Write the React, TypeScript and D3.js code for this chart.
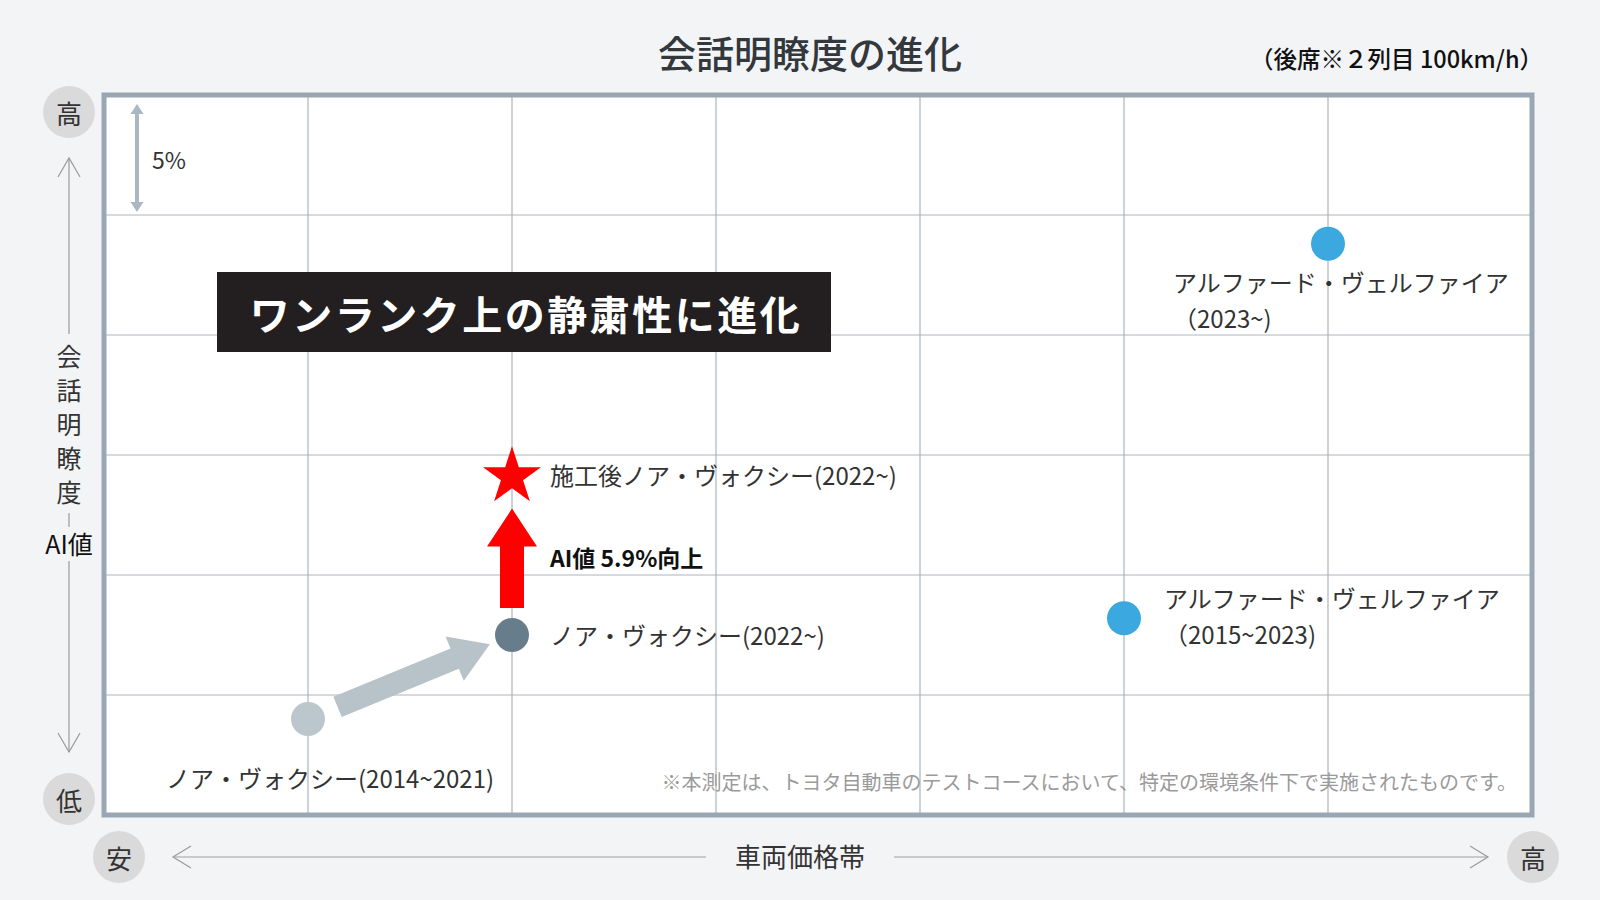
import { scaleLinear, symbol, symbolStar, line as d3_line, range } from "d3";

// 車両価格帯 (0 = 安 … 7 = 高) and AI値 (%)
const modelLines = [
  ["ノア・ヴォクシー(2014~2021)"],
  ["ノア・ヴォクシー(2022~)"],
  ["アルファード・ヴェルファイア", "（2015~2023)"],
  ["アルファード・ヴェルファイア", "（2023~)"],
];
const priceBands = [1, 2, 5, 6];
const aiValues = [4.0, 7.5, 8.2, 23.8];

// after treatment
const treatedLabel = "施工後ノア・ヴォクシー(2022~)";
const treatedBand = 2;
const treatedValue = 14.1;
const improvementLabel = "AI値 5.9%向上";

const title = "会話明瞭度の進化";
const subtitle = "（後席※２列目 100km/h）";
const bannerText = "ワンランク上の静粛性に進化";
const yAxisTitle = "会話明瞭度";
const yAxisUnit = "AI値";
const xAxisTitle = "車両価格帯";
const scaleNote = "5%";
const footnote = "※本測定は、トヨタ自動車のテストコースにおいて、特定の環境条件下で実施されたものです。";

const FONT = "'Noto Sans CJK JP', 'Noto Sans', sans-serif";

function arrowPath(x0: number, y0: number, x1: number, y1: number, sw: number, hw: number, hl: number) {
  const len = Math.hypot(x1 - x0, y1 - y0);
  const ux = (x1 - x0) / len;
  const uy = (y1 - y0) / len;
  const nx = -uy;
  const ny = ux;
  const bx = x1 - ux * hl;
  const by = y1 - uy * hl;
  const pts: [number, number][] = [
    [x0 + (nx * sw) / 2, y0 + (ny * sw) / 2],
    [bx + (nx * sw) / 2, by + (ny * sw) / 2],
    [bx + (nx * hw) / 2, by + (ny * hw) / 2],
    [x1, y1],
    [bx - (nx * hw) / 2, by - (ny * hw) / 2],
    [bx - (nx * sw) / 2, by - (ny * sw) / 2],
    [x0 - (nx * sw) / 2, y0 - (ny * sw) / 2],
  ];
  return d3_line()(pts) + "Z";
}

export default function App() {
  const x = scaleLinear().domain([0, 7]).range([104, 1532]);
  const y = scaleLinear().domain([0, 30]).range([815, 95]);

  const dotColors = ["#bcc6cd", "#687d8c", "#3ba9e0", "#3ba9e0"];
  const r = 17;

  // grey arrow between the two Noah generations
  const gx0 = x(priceBands[0]);
  const gy0 = y(aiValues[0]);
  const gx1 = x(priceBands[1]);
  const gy1 = y(aiValues[1]);
  const glen = Math.hypot(gx1 - gx0, gy1 - gy0);
  const gux = (gx1 - gx0) / glen;
  const guy = (gy1 - gy0) / glen;
  const greyArrow = arrowPath(
    gx0 + gux * 32,
    gy0 + guy * 32,
    gx0 + gux * (glen - 24),
    gy0 + guy * (glen - 24),
    22,
    48,
    38
  );

  // red arrow up to the treated star
  const sx = x(treatedBand);
  const sy = y(treatedValue);
  const redArrow = arrowPath(sx, gy1 - 27, sx, sy + 32, 24, 50, 38);
  const star = symbol(symbolStar, 1040)();

  const labelLayout = [
    { dx: -142, dy: [58] },
    { dx: 38, dy: [-1] },
    { dx: 40, dy: [-21, 15] },
    { dx: -155, dy: [38, 74] },
  ];

  const axisGrey = "#9a9a9a";

  return (
    <svg
      width={1600}
      height={900}
      style={{ position: "absolute", left: 0, top: 0, display: "block", background: "#f3f4f6" }}
      fontFamily={FONT}
    >
      {/* title */}
      <text x={810} y={68} textAnchor="middle" fontSize={38} fontWeight={500} fill="#33383d">
        {title}
      </text>
      <text x={1543} y={68} textAnchor="end" fontSize={23.5} fontWeight={500} fill="#111">
        {subtitle}
      </text>

      {/* plot area */}
      <rect x={x(0)} y={y(30)} width={x(7) - x(0)} height={y(0) - y(30)} fill="#fff" />
      {range(1, 7).map((t) => (
        <line key={"vx" + t} x1={x(t)} x2={x(t)} y1={y(30)} y2={y(0)} stroke="#a9b5be" strokeWidth={1.2} />
      ))}
      {y.ticks(6).filter((t) => t > 0 && t < 30).map((t) => (
        <line key={"hy" + t} x1={x(0)} x2={x(7)} y1={y(t)} y2={y(t)} stroke="#a9b5be" strokeWidth={1.2} />
      ))}
      <rect
        x={x(0)}
        y={y(30)}
        width={x(7) - x(0)}
        height={y(0) - y(30)}
        fill="none"
        stroke="#98a7b3"
        strokeWidth={5}
      />

      {/* 5% scale marker */}
      <g fill="#aab8c3">
        <path d={arrowPath(x(0) + 33, y(27.5), x(0) + 33, y(30) + 9, 4, 13, 10)} />
        <path d={arrowPath(x(0) + 33, y(27.5), x(0) + 33, y(25) - 3, 4, 13, 10)} />
      </g>
      <text x={x(0) + 48} y={y(27.5) + 4} dominantBaseline="central" fontSize={23} fill="#333">
        {scaleNote}
      </text>

      {/* banner */}
      <rect x={217} y={272} width={614} height={80} fill="#231f20" />
      <text
        x={526}
        y={313}
        textAnchor="middle"
        dominantBaseline="central"
        fontSize={40}
        fontWeight={700}
        letterSpacing={2.5}
        fill="#fff"
      >
        {bannerText}
      </text>

      {/* arrows */}
      <path d={greyArrow} fill="#b7c2c9" />
      <path d={redArrow} fill="#ff0000" />
      <text x={sx + 38} y={567} fontSize={23} fontWeight={700} fill="#111">
        {improvementLabel}
      </text>

      {/* points */}
      {priceBands.map((b, i) => (
        <circle key={"pt" + i} cx={x(b)} cy={y(aiValues[i])} r={r} fill={dotColors[i]} />
      ))}
      <path d={star ?? ""} transform={`translate(${sx},${sy})`} fill="#ff0000" />

      {/* labels */}
      {modelLines.map((lines, i) => (
        <g key={"lb" + i} fontSize={24} fill="#333">
          {lines.map((s, j) => (
            <text
              key={j}
              x={x(priceBands[i]) + labelLayout[i].dx}
              y={y(aiValues[i]) + labelLayout[i].dy[j]}
              dominantBaseline="central"
            >
              {s}
            </text>
          ))}
        </g>
      ))}
      <text x={sx + 38} y={sy - 2} dominantBaseline="central" fontSize={24} fill="#333">
        {treatedLabel}
      </text>

      <text x={1517} y={781} textAnchor="end" dominantBaseline="central" fontSize={20} fill="#9a9a9a">
        {footnote}
      </text>

      {/* y axis decoration */}
      <g stroke={axisGrey} strokeWidth={1.2} fill="none">
        <line x1={69} x2={69} y1={158} y2={334} />
        <line x1={69} x2={69} y1={513} y2={527} />
        <line x1={69} x2={69} y1={561} y2={752} />
        <polyline points="58,177 69,158 80,177" />
        <polyline points="58,733 69,752 80,733" />
      </g>
      {yAxisTitle.split("").map((c, i) => (
        <text key={"yt" + i} x={69} y={355 + i * 34} textAnchor="middle" dominantBaseline="central" fontSize={25} fill="#333">
          {c}
        </text>
      ))}
      <text x={69} y={543} textAnchor="middle" dominantBaseline="central" fontSize={25} fill="#111">
        {yAxisUnit}
      </text>
      <circle cx={69} cy={112} r={26} fill="#dadada" />
      <text x={69} y={112} textAnchor="middle" dominantBaseline="central" fontSize={26} fill="#333">
        高
      </text>
      <circle cx={69} cy={799} r={26} fill="#dadada" />
      <text x={69} y={799} textAnchor="middle" dominantBaseline="central" fontSize={26} fill="#333">
        低
      </text>

      {/* x axis decoration */}
      <g stroke="#bdbdbd" strokeWidth={1.5} fill="none">
        <line x1={173} x2={706} y1={857} y2={857} />
        <line x1={894} x2={1488} y1={857} y2={857} />
      </g>
      <g stroke={axisGrey} strokeWidth={1.2} fill="none">
        <polyline points="191,846 173,857 191,868" />
        <polyline points="1470,846 1488,857 1470,868" />
      </g>
      <text x={800} y={855} textAnchor="middle" dominantBaseline="central" fontSize={26} fill="#333">
        {xAxisTitle}
      </text>
      <circle cx={119} cy={857} r={26} fill="#dadada" />
      <text x={119} y={857} textAnchor="middle" dominantBaseline="central" fontSize={26} fill="#333">
        安
      </text>
      <circle cx={1533} cy={857} r={26} fill="#dadada" />
      <text x={1533} y={857} textAnchor="middle" dominantBaseline="central" fontSize={26} fill="#333">
        高
      </text>
    </svg>
  );
}
